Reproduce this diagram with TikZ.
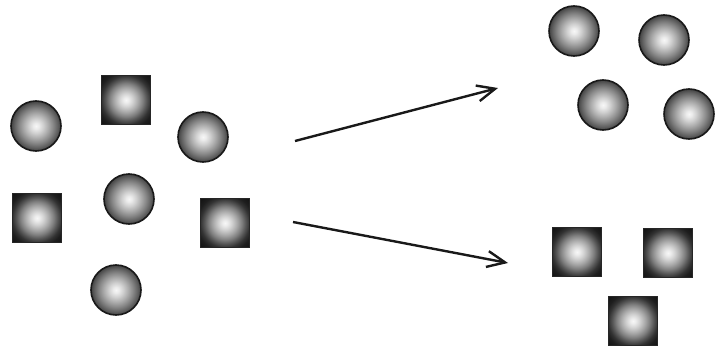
\documentclass[tikz,border=0pt]{standalone}
\usetikzlibrary{arrows.meta}
\pgfdeclareradialshading{ballc}{\pgfpoint{0bp}{0bp}}{%
  color(0bp)=(white!97!black); color(3bp)=(black!8); color(7bp)=(black!18); color(12bp)=(black!32);
  color(17bp)=(black!47); color(21bp)=(black!60); color(25bp)=(black!74); color(50bp)=(black!74)}
\pgfdeclareradialshading{balls}{\pgfpoint{0bp}{0bp}}{%
  color(0bp)=(white!97!black); color(3bp)=(black!8); color(7bp)=(black!18); color(12bp)=(black!33);
  color(17bp)=(black!50); color(21bp)=(black!66); color(25bp)=(black!80); color(29bp)=(black!88); color(34bp)=(black!92); color(50bp)=(black!92)}
\tikzset{
  ball/.style={circle, minimum size=50pt, inner sep=0pt, shading=ballc, draw=black!90, line width=1.6pt},
  cube/.style={rectangle, minimum size=49pt, inner sep=0pt, shading=balls, draw=black!85, line width=0.4pt},
  flow/.style={line width=2.4pt, draw=black!90, -{Straight Barb[length=18pt,width=16pt,line width=2.4pt]}}
}
\begin{document}
\begin{tikzpicture}[x=1pt,y=-1pt]
\useasboundingbox (0,0) rectangle (715,348);
% left mixed group
\node[ball] (lc1) at (36,126) {};
\node[cube] (ls1) at (126,100) {};
\node[ball] (lc2) at (203,137) {};
\node[cube] (ls2) at (37,218) {};
\node[ball] (lc3) at (129,199) {};
\node[cube] (ls3) at (225,223) {};
\node[ball] (lc4) at (116,290) {};
% right circles
\node[ball] (rc1) at (574,31) {};
\node[ball] (rc2) at (664,40) {};
\node[ball] (rc3) at (603,105) {};
\node[ball] (rc4) at (689,114) {};
% right squares
\node[cube] (rs1) at (577,252) {};
\node[cube] (rs2) at (668,253) {};
\node[cube] (rs3) at (633,321) {};
% arrows
\coordinate (a1s) at (295,141);
\coordinate (a1e) at (498,88);
\coordinate (a2s) at (293,222);
\coordinate (a2e) at (508,263);
\draw[flow] (a1s) -- (a1e);
\draw[flow] (a2s) -- (a2e);
\end{tikzpicture}
\end{document}
